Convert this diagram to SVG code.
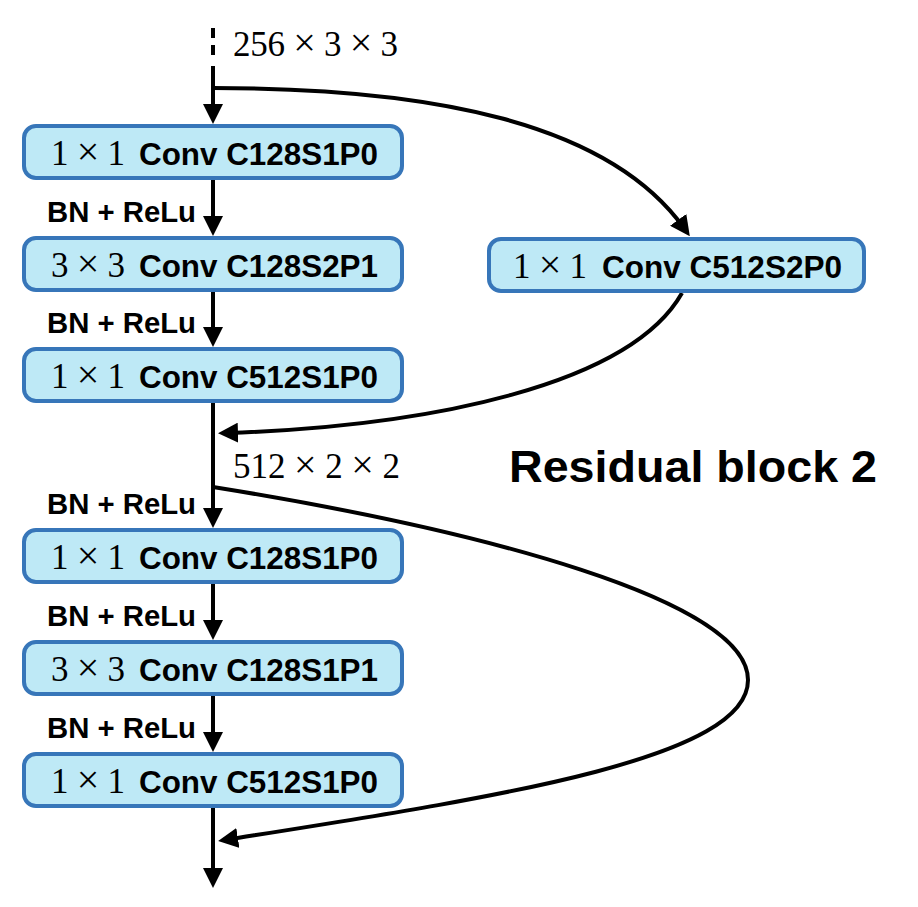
<svg xmlns="http://www.w3.org/2000/svg" width="918" height="907" viewBox="0 0 918 907">
<defs>
<style>
.box{fill:#bee9f6;stroke:#3776b9;stroke-width:4}
.m{font-family:"Liberation Serif","Times New Roman",serif;font-size:35px;fill:#000}
.x{font-size:40px}
.b{font-family:"Liberation Sans",Arial,sans-serif;font-weight:bold;font-size:31px;fill:#000}
.lbl{font-family:"Liberation Sans",Arial,sans-serif;font-weight:bold;font-size:29px;fill:#000}
.title{font-family:"Liberation Sans",Arial,sans-serif;font-weight:bold;font-size:45px;fill:#000}
.c{fill:none;stroke:#000;stroke-width:4}
</style>
<marker id="ah" viewBox="0 0 20 20" refX="10" refY="10" markerWidth="20" markerHeight="20" markerUnits="userSpaceOnUse" orient="auto">
<path d="M0,0 L20,10 L0,20 Z" fill="#000"/>
</marker>
</defs>
<rect width="918" height="907" fill="#fff"/>
<g id="connectors">
<line class="c" x1="213" y1="28" x2="213" y2="58" stroke-dasharray="10 7"/>
<line class="c" x1="213" y1="66" x2="213" y2="114" marker-end="url(#ah)"/>
<line class="c" x1="213" y1="180" x2="213" y2="226" marker-end="url(#ah)"/>
<line class="c" x1="213" y1="291" x2="213" y2="337" marker-end="url(#ah)"/>
<line class="c" x1="213" y1="403" x2="213" y2="518" marker-end="url(#ah)"/>
<line class="c" x1="213" y1="584" x2="213" y2="630" marker-end="url(#ah)"/>
<line class="c" x1="213" y1="695" x2="213" y2="742" marker-end="url(#ah)"/>
<line class="c" x1="213" y1="808" x2="213" y2="878" marker-end="url(#ah)"/>
<path class="c" d="M213,88 C430,88 608,122 684,228" marker-end="url(#ah)"/>
<path class="c" d="M682,293 C630,385 430,426 228,433" marker-end="url(#ah)"/>
<path class="c" d="M213,487 C480,530 748,600 748,680 C748,760 490,798 228,839.5" marker-end="url(#ah)"/>
</g>
<g id="in-label"><text class="m" x="233" y="56" textLength="165" lengthAdjust="spacing">256 <tspan class="x">×</tspan> 3 <tspan class="x">×</tspan> 3</text></g>
<g id="conv1">
<rect class="box" x="24" y="126" width="378" height="52" rx="12"/>
<text class="m" x="51" y="165" textLength="74" lengthAdjust="spacing">1 <tspan class="x">×</tspan> 1</text>
<text class="b" x="139" y="165" textLength="239" lengthAdjust="spacingAndGlyphs">Conv C128S1P0</text>
</g>
<g id="bn1"><text class="lbl" x="47" y="222" textLength="149" lengthAdjust="spacingAndGlyphs">BN + ReLu</text></g>
<g id="conv2">
<rect class="box" x="24" y="238" width="378" height="52" rx="12"/>
<text class="m" x="51" y="277" textLength="74" lengthAdjust="spacing">3 <tspan class="x">×</tspan> 3</text>
<text class="b" x="139" y="277" textLength="239" lengthAdjust="spacingAndGlyphs">Conv C128S2P1</text>
</g>
<g id="bn2"><text class="lbl" x="47" y="333" textLength="149" lengthAdjust="spacingAndGlyphs">BN + ReLu</text></g>
<g id="conv3">
<rect class="box" x="24" y="349" width="378" height="52" rx="12"/>
<text class="m" x="51" y="388" textLength="74" lengthAdjust="spacing">1 <tspan class="x">×</tspan> 1</text>
<text class="b" x="139" y="388" textLength="239" lengthAdjust="spacingAndGlyphs">Conv C512S1P0</text>
</g>
<g id="shortcut">
<rect class="box" x="489" y="239" width="375" height="52" rx="12"/>
<text class="m" x="513" y="278" textLength="74" lengthAdjust="spacing">1 <tspan class="x">×</tspan> 1</text>
<text class="b" x="602" y="278" textLength="240" lengthAdjust="spacingAndGlyphs">Conv C512S2P0</text>
</g>
<g id="mid-label"><text class="m" x="233" y="478" textLength="167" lengthAdjust="spacing">512 <tspan class="x">×</tspan> 2 <tspan class="x">×</tspan> 2</text></g>
<g id="title"><text class="title" x="509" y="482" textLength="368" lengthAdjust="spacingAndGlyphs">Residual block 2</text></g>
<g id="bn3"><text class="lbl" x="47" y="514" textLength="149" lengthAdjust="spacingAndGlyphs">BN + ReLu</text></g>
<g id="conv4">
<rect class="box" x="24" y="530" width="378" height="52" rx="12"/>
<text class="m" x="51" y="569" textLength="74" lengthAdjust="spacing">1 <tspan class="x">×</tspan> 1</text>
<text class="b" x="139" y="569" textLength="239" lengthAdjust="spacingAndGlyphs">Conv C128S1P0</text>
</g>
<g id="bn4"><text class="lbl" x="47" y="626" textLength="149" lengthAdjust="spacingAndGlyphs">BN + ReLu</text></g>
<g id="conv5">
<rect class="box" x="24" y="642" width="378" height="52" rx="12"/>
<text class="m" x="51" y="681" textLength="74" lengthAdjust="spacing">3 <tspan class="x">×</tspan> 3</text>
<text class="b" x="139" y="681" textLength="239" lengthAdjust="spacingAndGlyphs">Conv C128S1P1</text>
</g>
<g id="bn5"><text class="lbl" x="47" y="738" textLength="149" lengthAdjust="spacingAndGlyphs">BN + ReLu</text></g>
<g id="conv6">
<rect class="box" x="24" y="754" width="378" height="52" rx="12"/>
<text class="m" x="51" y="793" textLength="74" lengthAdjust="spacing">1 <tspan class="x">×</tspan> 1</text>
<text class="b" x="139" y="793" textLength="239" lengthAdjust="spacingAndGlyphs">Conv C512S1P0</text>
</g>
</svg>
